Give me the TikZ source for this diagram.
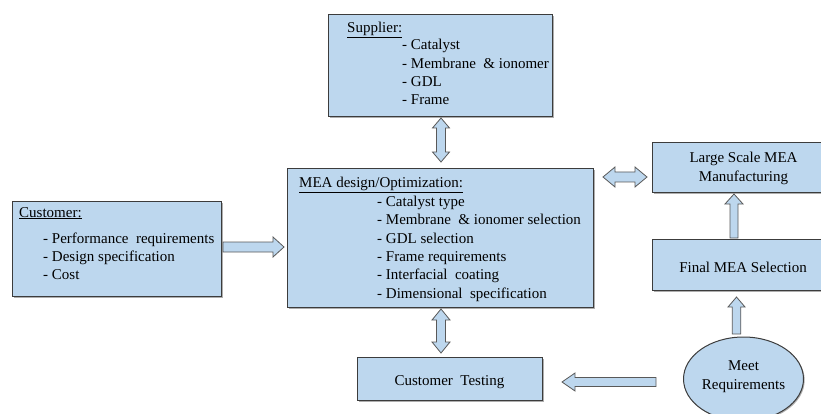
\documentclass[tikz,border=0pt]{standalone}
\usepackage{fontspec}
\setmainfont{Liberation Serif}
\usetikzlibrary{shapes.geometric,shadows}
\definecolor{boxfill}{HTML}{BDD7EE}
\definecolor{boxline}{HTML}{3C3C3C}
\tikzset{
  box/.style={draw=boxline, line width=1pt, fill=boxfill, inner sep=0pt, anchor=north west,
    drop shadow={shadow xshift=1.2pt, shadow yshift=-1.2pt, opacity=0.45, fill=black!70}},
  oval/.style={ellipse, draw=boxline, line width=1pt, fill=boxfill, inner sep=0pt,
    drop shadow={shadow xshift=1.2pt, shadow yshift=-1.2pt, opacity=0.45, fill=black!70}},
  txt/.style={anchor=base west, inner sep=0pt, font=\fontsize{15}{18}\selectfont},
  ctxt/.style={anchor=base, inner sep=0pt, font=\fontsize{15}{18}\selectfont},
  barrow/.style={draw=boxline!85, line width=0.8pt, fill=boxfill, line join=miter},
}
% #1 name, #2 x, #3 y, #4 angle, #5 length, #6 shaft half-width, #7 head half-width, #8 head length
\newcommand{\blkarrow}[8]{%
  \begin{scope}[shift={(#2,#3)}, rotate=#4]
    \coordinate (#1) at (0,0);
    \draw[barrow] (-#5/2,-#6) -- (#5/2-#8,-#6) -- (#5/2-#8,-#7) -- (#5/2,0)
      -- (#5/2-#8,#7) -- (#5/2-#8,#6) -- (-#5/2,#6) -- cycle;
  \end{scope}}
\newcommand{\dblarrow}[8]{%
  \begin{scope}[shift={(#2,#3)}, rotate=#4]
    \coordinate (#1) at (0,0);
    \draw[barrow] (-#5/2,0) -- (-#5/2+#8,-#7) -- (-#5/2+#8,-#6) -- (#5/2-#8,-#6)
      -- (#5/2-#8,-#7) -- (#5/2,0) -- (#5/2-#8,#7) -- (#5/2-#8,#6)
      -- (-#5/2+#8,#6) -- (-#5/2+#8,#7) -- cycle;
  \end{scope}}
\begin{document}
\begin{tikzpicture}[x=1pt,y=-1pt]
\useasboundingbox (0,0) rectangle (821,414);
\clip (0,0) rectangle (821,414);
% block arrows
\dblarrow{a1}{441}{140}{90}{44}{4.5}{8.5}{10}
\dblarrow{a2}{441}{331}{90}{44}{4.5}{9}{11}
\blkarrow{a3}{253.5}{247}{0}{61}{5}{10}{11}
\dblarrow{a4}{625}{177}{0}{44}{5}{10}{12}
\blkarrow{a5}{734}{216}{90}{44}{4}{9}{10}
\blkarrow{a6}{736.5}{315.5}{90}{37}{4.25}{8.5}{10}
\blkarrow{a7}{609}{382}{180}{94}{4.5}{9}{13}
% boxes
\node[box, minimum width=224pt, minimum height=102pt] (sup) at (328,14) {};
\node[box, minimum width=306pt, minimum height=139pt] (mea) at (287,168) {};
\node[box, minimum width=209pt, minimum height=95pt] (cust) at (12,201) {};
\node[box, minimum width=183pt, minimum height=50pt] (large) at (652,142) {};
\node[box, minimum width=183pt, minimum height=51pt] (final) at (652,239) {};
\node[box, minimum width=185pt, minimum height=43pt] (test) at (357,357) {};
\node[oval, minimum width=120pt, minimum height=84pt] (meet) at (743.5,379) {};
% supplier text
\node[txt] (supT) at (347,33) {\underline{Supplier:}};
\node[txt] (sup1) at (402,50) {- Catalyst};
\node[txt] (sup2) at (402,68.3) {- Membrane \ \& ionomer};
\node[txt] (sup3) at (402,86.6) {- GDL};
\node[txt] (sup4) at (402,104.9) {- Frame};
% customer text
\node[txt] (custT) at (19,217) {\underline{Customer:}};
\node[txt] (cust1) at (43,243) {- Performance \ requirements};
\node[txt] (cust2) at (43,261) {- Design specification};
\node[txt] (cust3) at (43,279) {- Cost};
% MEA text
\node[txt] (meaT) at (299,188) {\underline{MEA design/Optimization:}};
\node[txt] (mea1) at (377,206.5) {- Catalyst type};
\node[txt] (mea2) at (377,224.8) {- Membrane \ \& ionomer selection};
\node[txt] (mea3) at (377,243.1) {- GDL selection};
\node[txt] (mea4) at (377,261.4) {- Frame requirements};
\node[txt] (mea5) at (377,279.7) {- Interfacial \ coating};
\node[txt] (mea6) at (377,298) {- Dimensional \ specification};
% right column text
\node[ctxt] (largeT1) at (743.5,163) {Large Scale MEA};
\node[ctxt] (largeT2) at (743.5,182) {Manufacturing};
\node[ctxt] (finalT) at (743,272) {Final MEA Selection};
\node[ctxt] (testT) at (449.5,385) {Customer \ Testing};
\node[ctxt] (meetT1) at (743.5,370) {Meet};
\node[ctxt] (meetT2) at (743.5,389) {Requirements};
\end{tikzpicture}
\end{document}
